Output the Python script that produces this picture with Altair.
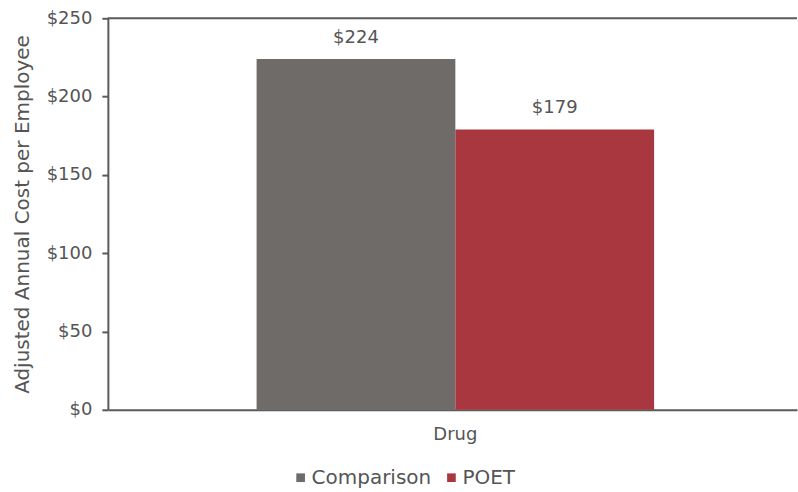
import altair as alt
import pandas as pd

# Adjusted annual drug cost per employee, by group
categories = ["Drug", "Drug"]
groups = ["Comparison", "POET"]
costs = [224, 179]
cost_labels = ["$224", "$179"]
y_ticks = [0, 50, 100, 150, 200, 250]
y_max = [250]
colors = ["#6f6b68", "#a8373f"]

FONT = "DejaVu Sans"
TEXT = "#555555"
LINE = "#5a5a5a"

df = pd.DataFrame({
    "category": categories,
    "group": groups,
    "cost": costs,
    "label": cost_labels,
})
frame_df = pd.DataFrame({"cost": y_max})

y_enc = alt.Y(
    "cost:Q",
    scale=alt.Scale(domain=[0, 250], nice=False),
    axis=alt.Axis(
        values=y_ticks,
        labelExpr="'$' + datum.value",
        title="Adjusted Annual Cost per Employee",
        grid=False,
        domainColor=LINE,
        domainWidth=2,
        tickColor=LINE,
        tickWidth=2,
        tickSize=6,
        labelFontSize=18,
        labelColor=TEXT,
        labelPadding=10,
        labelFont=FONT,
        titleFont=FONT,
        titleFontSize=20,
        titleFontWeight="normal",
        titleColor=TEXT,
        titlePadding=14,
    ),
)

base = alt.Chart(df).encode(
    x=alt.X(
        "category:N",
        title=None,
        scale=alt.Scale(paddingInner=0, paddingOuter=0.3668, align=0.51),
        axis=alt.Axis(
            labelAngle=0,
            ticks=False,
            domainColor=LINE,
            domainWidth=2,
            labelFontSize=18,
            labelFont=FONT,
            labelColor=TEXT,
            labelPadding=16,
        ),
    ),
    xOffset=alt.XOffset("group:N", sort=groups,
                        scale=alt.Scale(paddingInner=0, paddingOuter=0)),
    y=y_enc,
)

bars = base.mark_bar().encode(
    color=alt.Color(
        "group:N",
        sort=groups,
        scale=alt.Scale(domain=groups, range=colors),
        legend=alt.Legend(
            orient="none",
            legendX=183,
            legendY=450,
            direction="horizontal",
            title=None,
            symbolType="square",
            symbolSize=75,
            symbolStrokeWidth=0,
            labelFontSize=20,
            labelFont=FONT,
            labelColor=TEXT,
            labelOffset=1,
            columnPadding=10,
        ),
    ),
)

values = base.mark_text(
    baseline="bottom", dy=-12, fontSize=18, font=FONT, color=TEXT
).encode(text="label:N")

top_line = alt.Chart(frame_df).mark_rule(color=LINE, strokeWidth=2).encode(y=y_enc)

chart = (
    alt.layer(top_line, bars, values)
    .properties(
        width=690,
        height=392,
        padding={"left": 12, "top": 9, "right": 0, "bottom": 0},
    )
    .configure_view(stroke=None)
)

chart.save("out.html", embed_options={"renderer": "svg", "actions": False})
